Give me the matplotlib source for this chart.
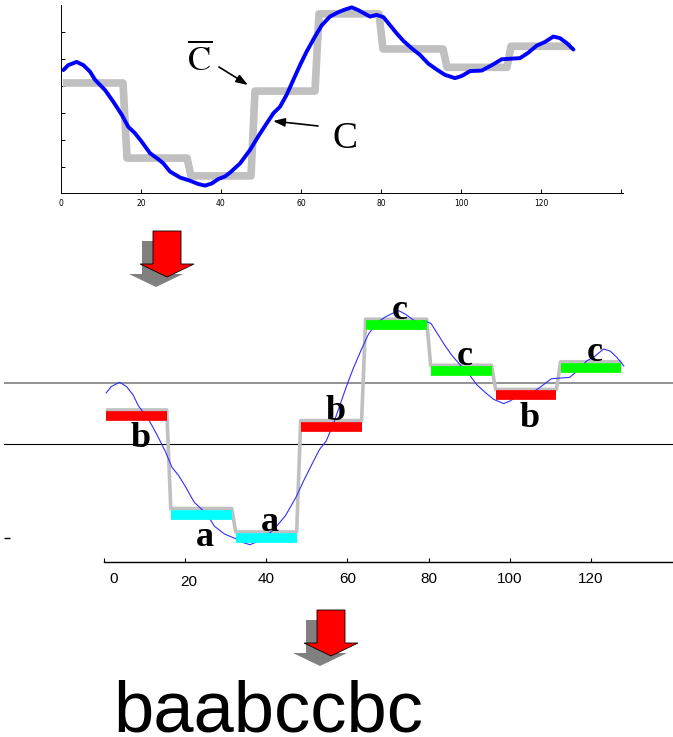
import numpy as np
import matplotlib.pyplot as plt
import matplotlib.transforms as mtransforms
from matplotlib.patches import Polygon

plt.rcParams['mathtext.fontset'] = 'stix'

# raw series C, sample index vs value
blue_t = [0.6, 1.8, 3.9, 5.6, 7.25, 8.5, 11.0, 13.1, 15.2, 16.8, 18.5, 20.2,
          22.25, 24.3, 25.6, 27.25, 29.75, 32.25, 34.3, 36.0, 37.7, 39.3, 41.0,
          42.25, 44.75, 47.25, 49.3, 51.4, 53.1, 54.75, 56.4, 58.1, 59.75, 61.4,
          63.5, 65.2, 67.25, 69.3, 71.0, 72.7, 74.3, 76.0, 77.25, 78.9, 80.6,
          82.25, 83.9, 85.6, 87.7, 89.75, 91.8, 93.9, 96.0, 98.5, 100.2, 102.25,
          105.2, 107.7, 110.2, 114.75, 116.8, 118.9, 121.0, 123.1, 124.75, 126.4, 128.1]
blue_v = [0.29, 0.38, 0.44, 0.38, 0.26, 0.11, -0.08, -0.30, -0.54, -0.76, -0.88, -1.04,
          -1.25, -1.36, -1.44, -1.59, -1.70, -1.76, -1.82, -1.85, -1.81, -1.73, -1.68,
          -1.61, -1.44, -1.19, -0.94, -0.70, -0.51, -0.39, -0.17, 0.11, 0.38, 0.63,
          0.91, 1.12, 1.28, 1.36, 1.41, 1.45, 1.40, 1.33, 1.28, 1.31, 1.27,
          1.12, 0.97, 0.83, 0.69, 0.57, 0.41, 0.30, 0.20, 0.14, 0.18, 0.27,
          0.28, 0.38, 0.49, 0.51, 0.61, 0.74, 0.81, 0.91, 0.88, 0.79, 0.67]

# PAA approximation C-bar, 8 frames of 16 samples
paa = [0.05, -1.34, -1.67, -0.10, 1.33, 0.68, 0.34, 0.73]
frame = 16
breakpoints = [-0.43, 0.43]
alphabet = ['a', 'b', 'c']
letter_colors = {'a': '#00ffff', 'b': '#ff0000', 'c': '#00ff00'}
letter_side = ['below', 'below', 'above', 'above', 'above', 'above', 'below', 'above']

W, H = 673, 737
fig = plt.figure(figsize=(W / 100, H / 100), dpi=100)


def fx(px):
    return px / W


def fy(py):
    return 1 - py / H


step_t = np.arange(len(paa) * frame) + 0.5
step_v = np.repeat(paa, frame)
letters = [alphabet[i] for i in np.digitize(paa, breakpoints)]

# ---------------- top panel ----------------
ax1 = fig.add_axes([fx(61), fy(193), (623 - 61) / W, (193 - 5) / H])
ax1.plot(step_t, step_v, color='#c0c0c0', lw=5.5, solid_capstyle='butt')
ax1.plot(blue_t, blue_v, color='#0000ff', lw=2.8, solid_capstyle='round',
         solid_joinstyle='round')
ax1.set_xlim(0, 140.5)
ax1.set_ylim(-1.987, 1.494)
ax1.set_xticks(np.arange(0, 141, 20))
ax1.set_xticklabels([str(v) for v in range(0, 121, 20)] + [''])
ax1.set_yticks([-1.5, -1.0, -0.5, 0.0, 0.5, 1.0])
ax1.set_yticklabels([])
ax1.tick_params(direction='in', length=3, width=0.7, labelsize=5.5, pad=4)
for s in ['top', 'right']:
    ax1.spines[s].set_visible(False)
for s in ['left', 'bottom']:
    ax1.spines[s].set_linewidth(0.7)

ax1.text(34.75, 0.47, r'$\overline{\mathrm{C}}$', fontsize=25, ha='center', va='center')
ax1.text(71, -0.99, 'C', fontsize=27, family='Liberation Serif', ha='center', va='center')
arrow_kw = dict(arrowstyle='-|>,head_length=0.7,head_width=0.25', color='black', lw=1.2,
                shrinkA=0, shrinkB=0)
ax1.annotate('', xy=(46.75, 0.013), xytext=(39.5, 0.346), arrowprops=arrow_kw)
ax1.annotate('', xy=(53.0, -0.654), xytext=(64.25, -0.746), arrowprops=arrow_kw)

# ---------------- lower panel ----------------
ax2 = fig.add_axes([fx(4), fy(562), (673 - 4) / W, (562 - 290) / H])
ax2.axhline(breakpoints[1], color='#808080', lw=1.2)
ax2.axhline(breakpoints[0], color='black', lw=0.8)
ax2.plot(step_t, step_v, color='#c0c0c0', lw=2.6, solid_capstyle='butt')
ax2.plot(blue_t, blue_v, color='#3030ff', lw=0.8)

bar_trans = mtransforms.offset_copy(ax2.transData, fig=fig, x=0, y=-6, units='dots')
for i, (lvl, let) in enumerate(zip(paa, letters)):
    x0 = i * frame + 0.5
    ax2.plot([x0, x0 + 15], [lvl, lvl], color=letter_colors[let], lw=7,
             solid_capstyle='butt', transform=bar_trans)
    dy = -27 if letter_side[i] == 'below' else 0.5
    ax2.annotate(let, xy=(i * frame + 9, lvl), xytext=(0, dy), textcoords='offset points',
                 ha='center', va='baseline', fontsize=26, fontweight='bold',
                 family='Liberation Serif')

ax2.set_xlim((4 - 103.8) / 4.06, (673 - 103.8) / 4.06)
ax2.set_ylim(-2.094, 1.742)
for s in ['top', 'right', 'left']:
    ax2.spines[s].set_visible(False)
ax2.spines['bottom'].set_bounds(0, 141)
ax2.spines['bottom'].set_linewidth(1.0)
ax2.set_xticks(np.arange(0, 121, 20))
ax2.set_yticks([-1.756])
ax2.set_yticklabels([])
ax2.tick_params(axis='x', direction='in', length=3, labelsize=11, pad=7)
ax2.tick_params(axis='y', direction='in', length=4, width=1)
xl = ax2.get_xticklabels()
xl[0].set_transform(xl[0].get_transform() + mtransforms.ScaledTranslation(0.10, 0, fig.dpi_scale_trans))
xl[1].set_transform(xl[1].get_transform() + mtransforms.ScaledTranslation(0.04, -0.03, fig.dpi_scale_trans))
for lab in xl:
    lab.set_family('Liberation Sans')


# ---------------- block arrows ----------------
def block_arrow(cx, top, shadow=(-11, 10)):
    hw, hhw, shaft, head = 14, 27, 33, 13
    pts = [(cx - hw, top), (cx + hw, top), (cx + hw, top + shaft), (cx + hhw, top + shaft),
           (cx, top + shaft + head), (cx - hhw, top + shaft), (cx - hw, top + shaft)]
    sh = [(fx(x + shadow[0]), fy(y + shadow[1])) for x, y in pts]
    fig.add_artist(Polygon(sh, closed=True, facecolor='#808080', edgecolor='none',
                           transform=fig.transFigure))
    rd = [(fx(x), fy(y)) for x, y in pts]
    fig.add_artist(Polygon(rd, closed=True, facecolor='#ff0000', edgecolor='black', lw=0.6,
                           transform=fig.transFigure))


block_arrow(167, 231)
block_arrow(331, 610)

fig.text(fx(113), fy(732), ''.join(letters), fontsize=52, family='Liberation Sans',
         ha='left', va='baseline')

fig.savefig('out.png', dpi=100)
